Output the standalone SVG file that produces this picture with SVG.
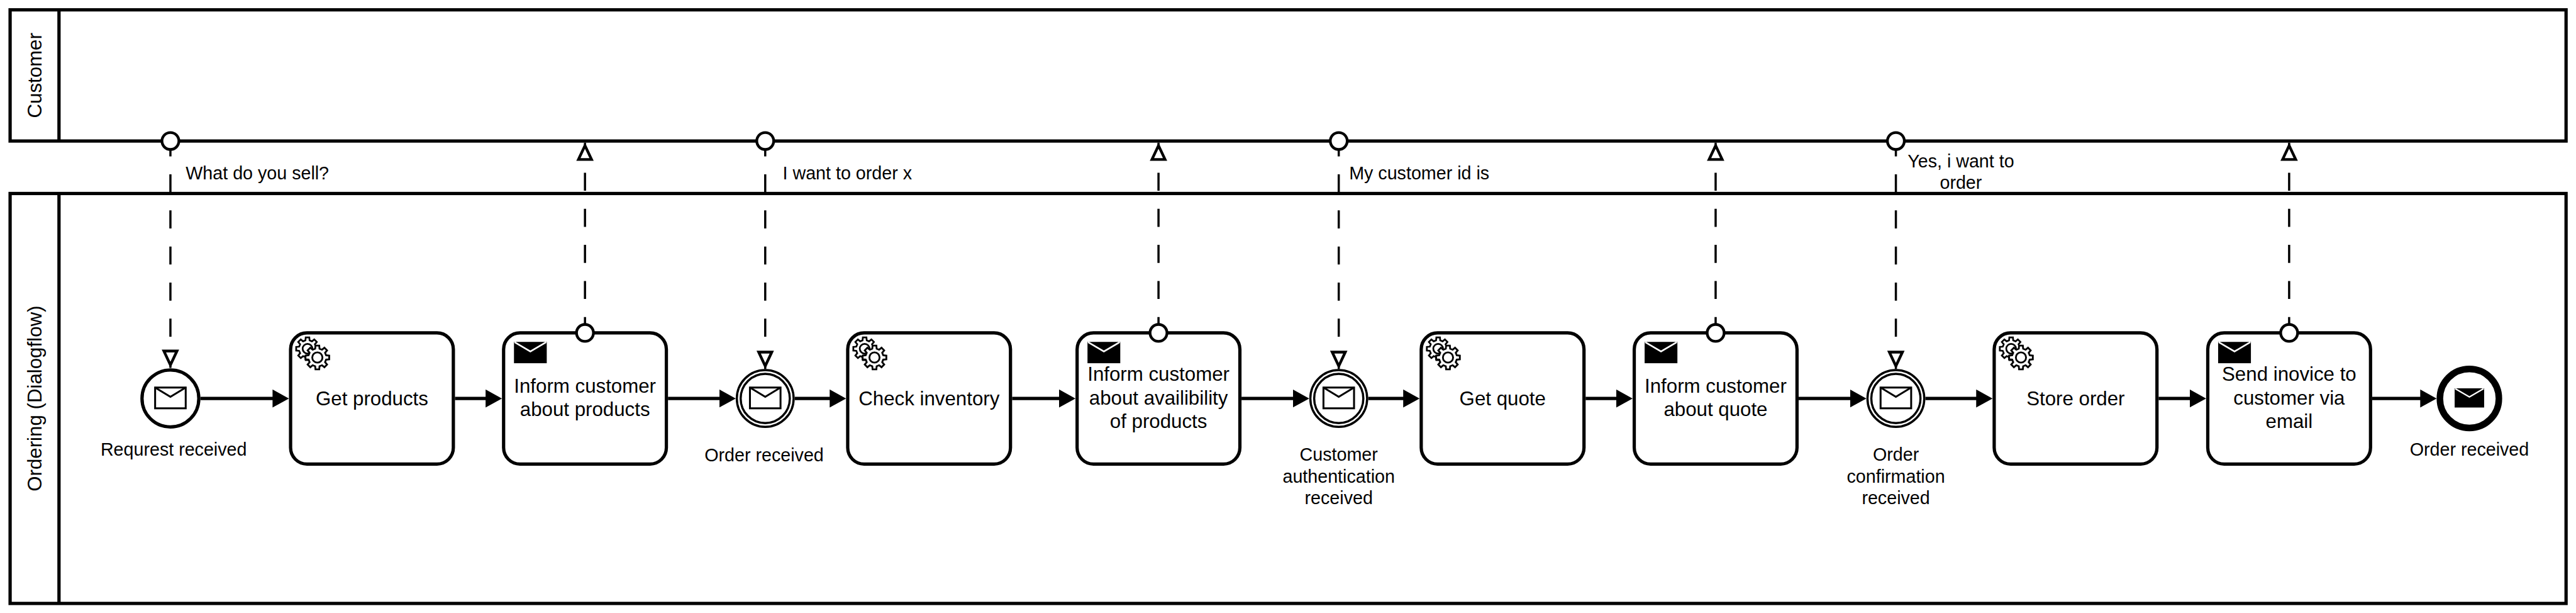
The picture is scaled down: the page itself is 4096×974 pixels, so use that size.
<svg xmlns="http://www.w3.org/2000/svg" xmlns:xlink="http://www.w3.org/1999/xlink" width="4096" height="974" viewBox="0 0 4096 974">
<style>
text{font-family:"Liberation Sans",Arial,sans-serif;fill:#000}
.lg{font-size:36px;text-anchor:middle}
.sm{font-size:33px;text-anchor:middle}
.st{font-size:33px;text-anchor:start}
.pool{fill:#fff;stroke:#000;stroke-width:6}
.task{fill:#fff;stroke:#000;stroke-width:6}
.flow{fill:none;stroke:#000;stroke-width:6;marker-end:url(#solid)}
.msg{fill:none;stroke:#000;stroke-width:4;stroke-dasharray:33 33;marker-end:url(#open)}
.dot{fill:#fff;stroke:#000;stroke-width:5}
.ev{fill:#fff;stroke:#000}
</style>
<defs>
<marker id="solid" markerUnits="userSpaceOnUse" markerWidth="32" markerHeight="34" refX="20" refY="16.5" orient="auto"><path d="M0,0L30,16.5L0,33Z" fill="#000"/></marker>
<marker id="open" markerUnits="userSpaceOnUse" markerWidth="44" markerHeight="44" refX="33.8" refY="22" orient="auto"><path d="M3,10L28.5,22L3,34Z" fill="#fff" stroke="#000" stroke-width="5"/></marker>
<g id="env"><rect x="-28" y="-19" width="56" height="38" fill="#fff" stroke="#000" stroke-width="3.5"/><path d="M-28,-19L0,-2L28,-19" fill="none" stroke="#000" stroke-width="3.5"/></g>
<g id="envb"><rect x="-30" y="-19.5" width="60" height="39" fill="#000"/><path d="M-29,-19L0,-2L29,-19" fill="none" stroke="#fff" stroke-width="3"/></g>
<g id="gear1"><path d="M14.55,-3.63L19.75,-3.13 19.75,3.13 14.55,3.63 12.86,7.73 16.18,11.76 11.76,16.18 7.73,12.86 3.63,14.55 3.13,19.75 -3.13,19.75 -3.63,14.55 -7.73,12.86 -11.76,16.18 -16.18,11.76 -12.86,7.73 -14.55,3.63 -19.75,3.13 -19.75,-3.13 -14.55,-3.63 -12.86,-7.73 -16.18,-11.76 -11.76,-16.18 -7.73,-12.86 -3.63,-14.55 -3.13,-19.75 3.13,-19.75 3.63,-14.55 7.73,-12.86 11.76,-16.18 16.18,-11.76 12.86,-7.73Z" fill="#fff" stroke="#000" stroke-width="3"/><circle r="8.5" fill="#fff" stroke="#000" stroke-width="3"/></g>
<g id="gears"><use xlink:href="#gear1" href="#gear1" transform="translate(31,29) scale(1.05)"/><use xlink:href="#gear1" href="#gear1" transform="translate(49,45) scale(1.1)"/></g>
</defs>
<rect width="4096" height="974" fill="#fff"/>
<g transform="scale(0.8685)">
<g id="pool-customer"><rect class="pool" x="18.5" y="18" width="4679.5" height="240"/><path d="M108,18V258" stroke="#000" stroke-width="6"/><text class="lg" transform="translate(76,138) rotate(-90)">Customer</text></g>
<g id="pool-ordering"><rect class="pool" x="18.5" y="354" width="4679.5" height="750"/><path d="M108,354V1104" stroke="#000" stroke-width="6"/><text class="lg" transform="translate(76,729) rotate(-90)">Ordering (Dialogflow)</text></g>

<g id="start-event"><circle class="ev" cx="312" cy="729" r="52" stroke-width="6"/><use xlink:href="#env" href="#env" x="312" y="728"/><text class="sm" x="318" y="834">Requrest received</text></g>

<g id="task-get-products"><rect class="task" x="532" y="609" width="298" height="240" rx="30"/><use xlink:href="#gears" href="#gears" x="532" y="609"/><text class="lg" x="681" y="742">Get products</text></g>
<g id="task-inform-products"><rect class="task" x="922" y="609" width="298" height="240" rx="30"/><use xlink:href="#envb" href="#envb" x="971" y="645"/><text class="lg" x="1071" y="718">Inform customer</text><text class="lg" x="1071" y="761">about products</text></g>
<g id="event-order"><circle class="ev" cx="1401" cy="729" r="52" stroke-width="4"/><circle class="ev" cx="1401" cy="729" r="45" stroke-width="4"/><use xlink:href="#env" href="#env" x="1401" y="728"/><text class="sm" x="1399" y="844">Order received</text></g>
<g id="task-check-inventory"><rect class="task" x="1552" y="609" width="298" height="240" rx="30"/><use xlink:href="#gears" href="#gears" x="1552" y="609"/><text class="lg" x="1701" y="742">Check inventory</text></g>
<g id="task-inform-availability"><rect class="task" x="1972" y="609" width="298" height="240" rx="30"/><use xlink:href="#envb" href="#envb" x="2021" y="645"/><text class="lg" x="2121" y="697">Inform customer</text><text class="lg" x="2121" y="740">about availibility</text><text class="lg" x="2121" y="783">of products</text></g>
<g id="event-auth"><circle class="ev" cx="2451" cy="729" r="52" stroke-width="4"/><circle class="ev" cx="2451" cy="729" r="45" stroke-width="4"/><use xlink:href="#env" href="#env" x="2451" y="728"/><text class="sm" x="2451" y="843">Customer</text><text class="sm" x="2451" y="883">authentication</text><text class="sm" x="2451" y="922">received</text></g>
<g id="task-get-quote"><rect class="task" x="2602" y="609" width="298" height="240" rx="30"/><use xlink:href="#gears" href="#gears" x="2602" y="609"/><text class="lg" x="2751" y="742">Get quote</text></g>
<g id="task-inform-quote"><rect class="task" x="2992" y="609" width="298" height="240" rx="30"/><use xlink:href="#envb" href="#envb" x="3041" y="645"/><text class="lg" x="3141" y="718">Inform customer</text><text class="lg" x="3141" y="761">about quote</text></g>
<g id="event-confirm"><circle class="ev" cx="3471" cy="729" r="52" stroke-width="4"/><circle class="ev" cx="3471" cy="729" r="45" stroke-width="4"/><use xlink:href="#env" href="#env" x="3471" y="728"/><text class="sm" x="3471" y="843">Order</text><text class="sm" x="3471" y="883">confirmation</text><text class="sm" x="3471" y="922">received</text></g>
<g id="task-store-order"><rect class="task" x="3651" y="609" width="298" height="240" rx="30"/><use xlink:href="#gears" href="#gears" x="3651" y="609"/><text class="lg" x="3800" y="742">Store order</text></g>
<g id="task-send-invoice"><rect class="task" x="4042" y="609" width="298" height="240" rx="30"/><use xlink:href="#envb" href="#envb" x="4091" y="645"/><text class="lg" x="4191" y="697">Send inovice to</text><text class="lg" x="4191" y="740">customer via</text><text class="lg" x="4191" y="783">email</text></g>
<g id="end-event"><circle class="ev" cx="4521" cy="729" r="54" stroke-width="12"/><use xlink:href="#envb" href="#envb" transform="translate(4521,728) scale(.9)"/><text class="sm" x="4521" y="834">Order received</text></g>

<g id="connectors">
<path class="flow" d="M367,729H519"/>
<path class="flow" d="M833,729H909"/>
<path class="flow" d="M1223,729H1337"/>
<path class="flow" d="M1455,729H1539"/>
<path class="flow" d="M1853,729H1959"/>
<path class="flow" d="M2273,729H2387"/>
<path class="flow" d="M2505,729H2589"/>
<path class="flow" d="M2903,729H2979"/>
<path class="flow" d="M3293,729H3407"/>
<path class="flow" d="M3525,729H3638"/>
<path class="flow" d="M3952,729H4029"/>
<path class="flow" d="M4343,729H4451"/>
<path class="msg" d="M312,253V673"/><circle class="dot" cx="312" cy="258" r="15.5"/>
<path class="msg" d="M1071,613V261"/><circle class="dot" cx="1071" cy="609" r="15.5"/>
<path class="msg" d="M1401,253V675"/><circle class="dot" cx="1401" cy="258" r="15.5"/>
<path class="msg" d="M2121,613V261"/><circle class="dot" cx="2121" cy="609" r="15.5"/>
<path class="msg" d="M2451,253V675"/><circle class="dot" cx="2451" cy="258" r="15.5"/>
<path class="msg" d="M3141,613V261"/><circle class="dot" cx="3141" cy="609" r="15.5"/>
<path class="msg" d="M3471,253V675"/><circle class="dot" cx="3471" cy="258" r="15.5"/>
<path class="msg" d="M4191,613V261"/><circle class="dot" cx="4191" cy="609" r="15.5"/>
<text class="st" x="340" y="328">What do you sell?</text>
<text class="st" x="1433" y="328">I want to order x</text>
<text class="st" x="2470" y="328">My customer id is</text>
<text class="sm" x="3590" y="306">Yes, i want to</text>
<text class="sm" x="3590" y="345">order</text>
</g>
</g>
</svg>
